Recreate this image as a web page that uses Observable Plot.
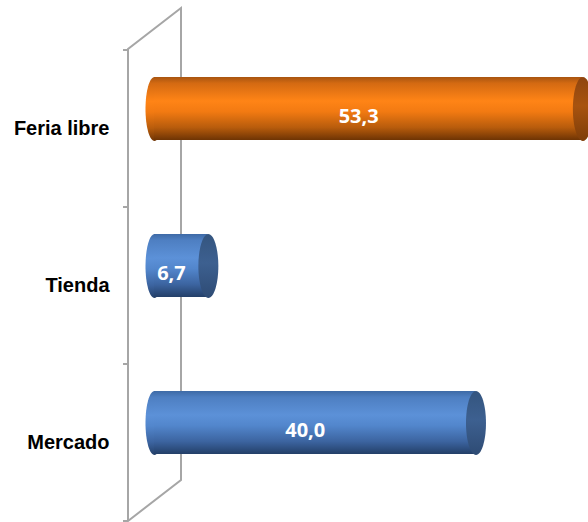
<!DOCTYPE html>
<html><head><meta charset="utf-8">
<script src="https://cdn.jsdelivr.net/npm/d3@7"></script>
<script src="https://cdn.jsdelivr.net/npm/@observablehq/plot@0.6"></script>
<style>
html,body{margin:0;padding:0;background:#fff;}
#chart svg{display:block;}
</style>
</head><body><div id="chart"></div>
<script>
// ---- data ----
const categories = ["Feria libre", "Tienda", "Mercado"];
const values = [53.3, 6.7, 40.0];
const valueLabels = ["53,3", "6,7", "40,0"];
const highlighted = ["Feria libre"];

const data = categories.map((c, i) => ({
  category: c, value: values[i], label: valueLabels[i], hi: highlighted.includes(c)
}));
const hiData = data.filter(d => d.hi);
const loData = data.filter(d => !d.hi);

// ---- styling helpers ----
const BAR_DY = -20;      // perspective shift of the bars inside each band
const BAR_RY = 32;       // half height of a cylinder
const DEPTH_X = 53, DEPTH_Y = 41; // 3D wall depth

const ellipse = (rx, ry) => ({
  draw(ctx) {
    const k = 0.5522848;
    ctx.moveTo(rx, 0);
    ctx.bezierCurveTo(rx, ry * k, rx * k, ry, 0, ry);
    ctx.bezierCurveTo(-rx * k, ry, -rx, ry * k, -rx, 0);
    ctx.bezierCurveTo(-rx, -ry * k, -rx * k, -ry, 0, -ry);
    ctx.bezierCurveTo(rx * k, -ry, rx, -ry * k, rx, 0);
    ctx.closePath();
  }
});

function defsMark() {
  const g = d3.create("svg:g");
  const defs = g.append("defs");
  const grad = (id, stops) => {
    const lg = defs.append("linearGradient").attr("id", id)
      .attr("x1", 0).attr("y1", 0).attr("x2", 0).attr("y2", 1);
    stops.forEach(([o, c]) => lg.append("stop").attr("offset", o).attr("stop-color", c));
  };
  grad("gOrange", [[0, "#a85410"], [0.1, "#d46a12"], [0.38, "#ff8416"], [0.55, "#f27a12"], [0.8, "#b85c0c"], [1, "#6e3404"]]);
  grad("gOrangeCap", [[0, "#8e4510"], [0.45, "#a8530f"], [1, "#7e3d08"]]);
  grad("gBlue", [[0, "#3e6aa6"], [0.1, "#4e7fc2"], [0.38, "#5c91d8"], [0.55, "#5286cc"], [0.8, "#3c64a0"], [1, "#233f68"]]);
  grad("gBlueCap", [[0, "#34557f"], [0.45, "#3d6090"], [1, "#2e4b74"]]);
  return g.node();
}

function wallMark(index, scales, values, dims) {
  const x = scales.x, y = scales.y;
  const top = dims.marginTop, bottom = dims.height - dims.marginBottom;
  const front = x(0) - 26, back = front + DEPTH_X;
  const g = d3.create("svg:g")
    .attr("fill", "none").attr("stroke", "#a6a6a6").attr("stroke-width", 2);
  g.append("path").attr("d",
    `M${front},${top}L${front},${bottom - 1}L${back},${bottom - 1 - DEPTH_Y}L${back},${top - DEPTH_Y}Z`);
  const ticks = categories.map(c => y(c)).concat([bottom - 1]);
  ticks.forEach(t => g.append("line").attr("x1", front - 5).attr("x2", front).attr("y1", t).attr("y2", t));
  return g.node();
}

const cyl = (rows, body, cap) => [
  Plot.dot(rows, {x: () => 0, y: "category", dy: BAR_DY, symbol: ellipse(9, BAR_RY), fill: `url(#${body})`, stroke: "none"}),
  Plot.barX(rows, {x1: () => 0, x2: "value", y: "category", insetTop: 27, insetBottom: 67, fill: `url(#${body})`}),
  Plot.dot(rows, {x: "value", y: "category", dy: BAR_DY, symbol: ellipse(10, BAR_RY), fill: `url(#${cap})`, stroke: "none"})
];

const chart = Plot.plot({
  width: 588,
  height: 522,
  marginTop: 49,
  marginBottom: 0,
  marginLeft: 154,
  marginRight: 0,
  style: {fontFamily: "'Liberation Sans', Arial, sans-serif", fontSize: "20px", fontWeight: "bold", color: "#000", background: "#fff", overflow: "hidden"},
  x: {domain: [0, 54], axis: null},
  y: {domain: categories, padding: 0, label: null},
  marks: [
    defsMark,
    wallMark,
    ...cyl(hiData, "gOrange", "gOrangeCap"),
    ...cyl(loData, "gBlue", "gBlueCap"),
    Plot.text(data, {x: d => d.value / 2, y: "category", text: "label", dx: -10, dy: -12,
      fill: "white", fontSize: 20, fontWeight: "bold", fontFamily: "'Open Sans', sans-serif"}),
    Plot.axisY({tickSize: 0, tickPadding: 45, label: null, fontSize: 20, fontWeight: "bold"})
  ]
});
document.getElementById("chart").append(chart);
</script>
</body></html>
